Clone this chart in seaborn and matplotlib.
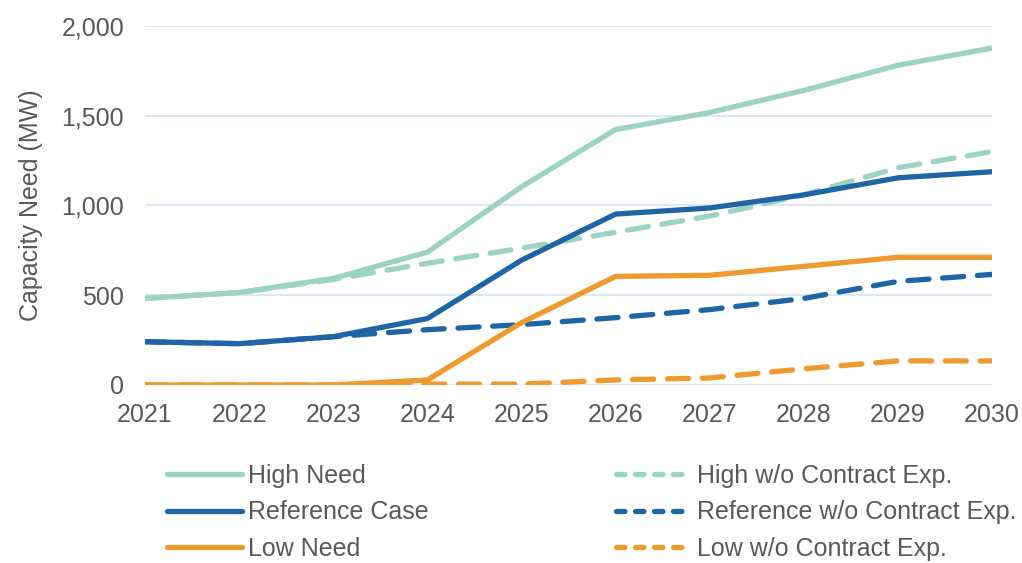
import numpy as np
import pandas as pd
import seaborn as sns
import matplotlib.pyplot as plt

years = [2021, 2022, 2023, 2024, 2025, 2026, 2027, 2028, 2029, 2030]

high_need = [482, 515, 594, 740, 1104, 1423, 1518, 1641, 1781, 1877]
ref_case = [241, 230, 269, 370, 695, 952, 986, 1059, 1154, 1188]
low_need = [0, 0, 0, 28, 347, 605, 611, 661, 711, 711]
high_wo = [482, 515, 588, 678, 762, 851, 941, 1059, 1210, 1300]
ref_wo = [241, 230, 269, 308, 336, 375, 420, 482, 577, 616]
low_wo = [0, 0, 0, 5, 5, 28, 39, 90, 134, 134]

labels = ["High Need", "Reference Case", "Low Need",
          "High w/o Contract Exp.", "Reference w/o Contract Exp.", "Low w/o Contract Exp."]
yticks = [0, 500, 1000, 1500, 2000]

teal = "#9dd3c3"
blue = "#1f65a6"
orange = "#ef9a2e"
grey = "#595959"

sns.set_theme(style="white")
plt.rcParams['font.family'] = ['Arial', 'Liberation Sans', 'DejaVu Sans']

fig = plt.figure(figsize=(10.22, 5.63), dpi=100)
ax = fig.add_axes([0.1419, 0.3162, 0.8288, 0.6377])

lw = 3.8
series = [(high_need, teal, "-"), (ref_case, blue, "-"), (low_need, orange, "-"),
          (high_wo, teal, "--"), (ref_wo, blue, "--"), (low_wo, orange, "--")]

# dashed first so the solid lines sit on top
for i in [3, 4, 5, 0, 1, 2]:
    vals, col, ls = series[i]
    df = pd.DataFrame({"year": years, "mw": vals})
    sns.lineplot(data=df, x="year", y="mw", color=col, linewidth=lw, ax=ax, legend=False)
    line = ax.get_lines()[-1]
    if ls == "--":
        line.set_dashes([4.0, 2.6])
        line.set_dash_capstyle("round")
    else:
        line.set_solid_capstyle("butt")

ax.set_xlim(2021, 2030)
ax.set_ylim(0, 2000)
ax.set_xticks(years)
ax.set_xticklabels([str(y) for y in years])
ax.set_yticks(yticks)
ax.set_yticklabels([f"{v:,}" for v in yticks])
ax.tick_params(axis="both", length=0, labelsize=18, labelcolor=grey)
ax.tick_params(axis="x", pad=13)
ax.tick_params(axis="y", pad=15)
ax.set_xlabel("")
ax.set_ylabel("Capacity Need (MW)", fontsize=18, color=grey, labelpad=13)
ax.grid(axis="y", color="#d5e5f4", linewidth=1.2)
ax.set_axisbelow(True)
for s in ax.spines.values():
    s.set_visible(False)

leg_handles = []
for i in range(6):
    vals, col, ls = series[i]
    h = plt.Line2D([], [], color=col, linewidth=lw, solid_capstyle="round",
                   dash_capstyle="round", dashes=(1.6, 2.0) if ls == "--" else (None, None))
    if ls == "-":
        h.set_linestyle("-")
    leg_handles.append(h)

fig.legend(leg_handles, labels, ncol=2, loc="upper left", bbox_to_anchor=(0.163, 0.176),
           frameon=False, fontsize=18, handlelength=3.0, handletextpad=0.25,
           columnspacing=7.5, labelspacing=0.5, labelcolor=grey,
           borderaxespad=0, borderpad=0)

fig.savefig("out.png", dpi=100)
